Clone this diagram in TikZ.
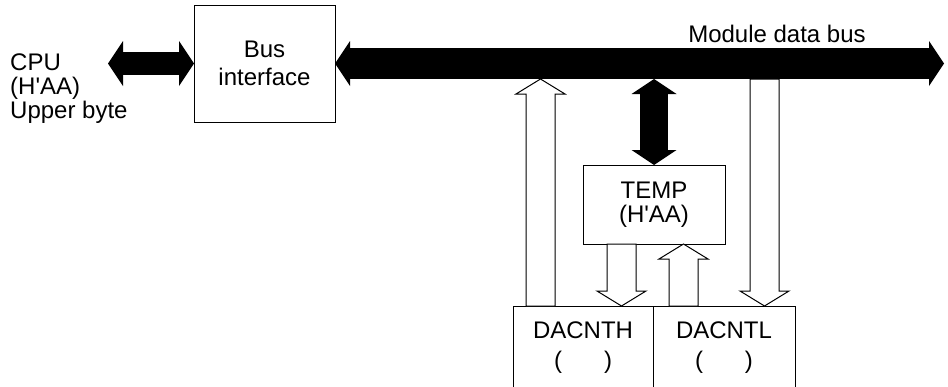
\documentclass[tikz,border=0pt]{standalone}
\usepackage{fontspec}
\setmainfont{Liberation Sans}
\usetikzlibrary{positioning, arrows.meta, calc}

% white block arrow from #1 to #2 (tip at #2)
\newcommand{\hollowarrow}[2]{%
  \coordinate (hb) at ($(#2)!15pt!(#1)$);
  \draw[hollow] ($(#1)!14.5pt!90:(#2)$) -- ($(hb)!14.5pt!90:(#2)$)
    -- ($(hb)!24.5pt!90:(#2)$) -- (#2) -- ($(hb)!24.5pt!-90:(#2)$)
    -- ($(hb)!14.5pt!-90:(#2)$) -- ($(#1)!14.5pt!-90:(#2)$) -- cycle;}

\begin{document}
\begin{tikzpicture}[
  x=1pt, y=-1pt,
  every node/.style={font=\fontsize{24}{24}\selectfont, inner sep=0pt},
  box/.style={rectangle, draw, line width=1pt, outer sep=0pt, align=center},
  hollow/.style={draw, fill=white, line width=1pt, line join=miter},
  fat/.style={line width=#1},
  >={Triangle[length=15pt, width=45pt, line width=0pt]}
]
\useasboundingbox (0,0) rectangle (948,386);
\clip (0,0) rectangle (948,386);
% ── registers and interface ───────────────────
\node[box, minimum width=141, minimum height=117] (bif) at (264.5,63.5) {Bus\\[4pt]interface};
\node[box, minimum width=142, minimum height=79] (temp) at (654,204.5)
  {TEMP\\(H\textquotesingle AA)};
\node[box, minimum width=140, minimum height=84, anchor=north west] (dach) at (513,306)
  {DACNTH\\[6pt](\hspace{42pt})};
\node[box, minimum width=142, minimum height=84, right=0pt of dach] (dacl)
  {DACNTL\\[6pt](\hspace{42pt})};
% ── labels ────────────────────────────────────
\node[align=left, anchor=west] (cpu) at (10,89) {CPU\\(H\textquotesingle AA)\\Upper byte};
\node (mdb) at (777,33.5) {Module data bus};
% ── end points ────────────────────────────────
\coordinate (cpuport) at (108,63.5);
\coordinate (busend) at (944,63.5);
\coordinate (busbot) at ([yshift=-15.5]bif.east);
\coordinate (h1s) at ([xshift=27.5]dach.north west);
\coordinate (h1e) at (h1s |- busbot);
\coordinate (h2s) at ([xshift=-32.5]temp.south);
\coordinate (h2e) at (h2s |- dach.north);
\coordinate (h3s) at ([xshift=30.5]dacl.north west);
\coordinate (h3e) at (h3s |- temp.south);
\coordinate (h4e) at ([xshift=-30.5]dacl.north east);
\coordinate (h4s) at (h4e |- busbot);
% ── white transfers ───────────────────────────
\hollowarrow{h1s}{h1e}
\hollowarrow{h2s}{h2e}
\hollowarrow{h3s}{h3e}
\hollowarrow{h4s}{h4e}
% ── black buses ───────────────────────────────
\draw[fat=23, <->] (cpuport) -- (bif.west);
\draw[fat=31, <->] (bif.east) -- (busend);
\draw[fat=28, <->] (temp.north |- busbot) -- (temp.north);
\end{tikzpicture}
\end{document}
